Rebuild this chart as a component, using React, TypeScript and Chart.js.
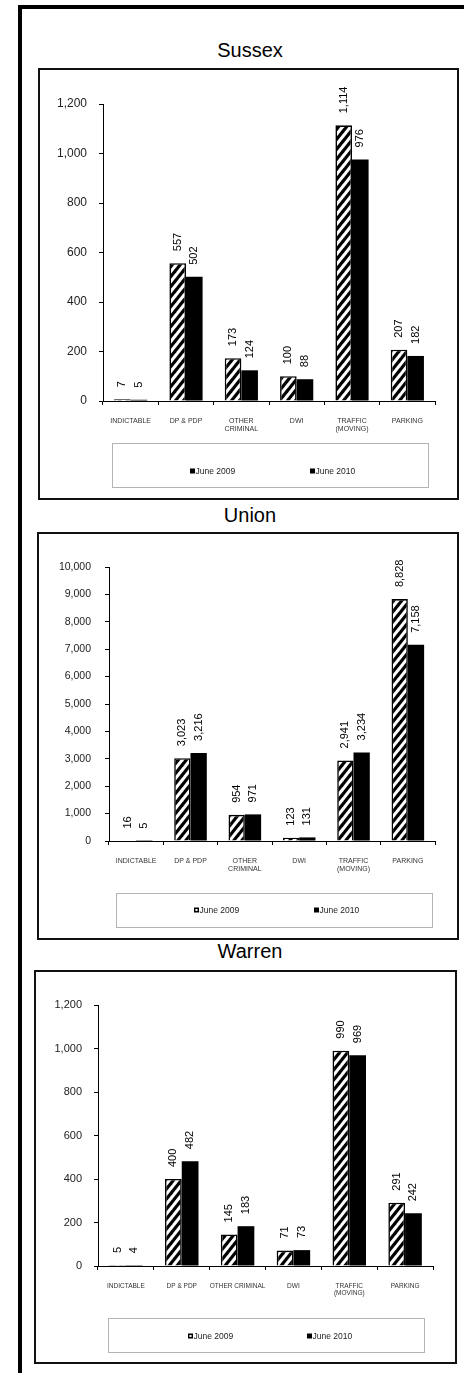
import React, { useEffect, useRef } from "react";
import { Chart, registerables } from "chart.js";

Chart.register(...registerables);

// ---------- data ----------
const seriesNames = ["June 2009", "June 2010"];

const sussexCategories: (string | string[])[] = ["INDICTABLE", "DP & PDP", ["OTHER", "CRIMINAL"], "DWI", ["TRAFFIC", "(MOVING)"], "PARKING"];
const sussex2009 = [7, 557, 173, 100, 1114, 207];
const sussex2010 = [5, 502, 124, 88, 976, 182];
const sussexTicks = { max: 1200, step: 200 };

const unionCategories: (string | string[])[] = ["INDICTABLE", "DP & PDP", ["OTHER", "CRIMINAL"], "DWI", ["TRAFFIC", "(MOVING)"], "PARKING"];
const union2009 = [16, 3023, 954, 123, 2941, 8828];
const union2010 = [5, 3216, 971, 131, 3234, 7158];
const unionTicks = { max: 10000, step: 1000 };

const warrenCategories: (string | string[])[] = ["INDICTABLE", "DP & PDP", "OTHER CRIMINAL", "DWI", ["TRAFFIC", "(MOVING)"], "PARKING"];
const warren2009 = [5, 400, 145, 71, 990, 291];
const warren2010 = [4, 482, 183, 73, 969, 242];
const warrenTicks = { max: 1200, step: 200 };

const FONT = '"Liberation Sans", Arial, Helvetica, sans-serif';

function makeHatch(ctx: CanvasRenderingContext2D): CanvasPattern | string {
  const w = 8, h = 10;
  const c = document.createElement("canvas");
  c.width = w;
  c.height = h;
  const g = c.getContext("2d");
  if (!g) return "#888";
  g.fillStyle = "#fff";
  g.fillRect(0, 0, w, h);
  g.strokeStyle = "#000";
  g.lineWidth = 3.2;
  for (let k = -1; k <= 1; k++) {
    g.beginPath();
    g.moveTo(-w, 2 * h + k * h);
    g.lineTo(2 * w, -h + k * h);
    g.stroke();
  }
  return ctx.createPattern(c, "repeat") || "#888";
}

const valueLabels = {
  id: "valueLabels",
  afterDatasetsDraw(chart: any, _args: any, opts: any) {
    const ctx = chart.ctx;
    chart.data.datasets.forEach((ds: any, i: number) => {
      const meta = chart.getDatasetMeta(i);
      meta.data.forEach((bar: any, j: number) => {
        const v = ds.data[j];
        ctx.save();
        ctx.translate(bar.x, bar.y - opts.gap);
        ctx.rotate(-Math.PI / 2);
        ctx.font = `${opts.size}px ${FONT}`;
        ctx.fillStyle = "#000";
        ctx.textAlign = "left";
        ctx.textBaseline = "middle";
        ctx.fillText(Number(v).toLocaleString("en-US"), 0, 0);
        ctx.restore();
      });
    });
  },
};

const legendBox = {
  id: "legendBox",
  afterDraw(chart: any, _args: any, opts: any) {
    const ctx = chart.ctx;
    const b = opts.box;
    ctx.save();
    ctx.strokeStyle = "#b4b4b4";
    ctx.lineWidth = 1;
    ctx.strokeRect(b.left + 0.5, b.top + 0.5, b.width, b.height);
    ctx.font = `${opts.size}px ${FONT}`;
    ctx.textBaseline = "middle";
    ctx.textAlign = "left";
    chart.data.datasets.forEach((ds: any, i: number) => {
      const x = b.left + opts.items[i];
      const y = b.top + opts.textY;
      ctx.fillStyle = "#000";
      ctx.fillRect(x, y - 2.5, 5, 5);
      if (i === 0 && opts.hollow) {
        ctx.fillStyle = "#fff";
        ctx.fillRect(x + 1.5, y - 1, 2, 2);
      }
      ctx.fillStyle = "#222";
      ctx.fillText(ds.label, x + 5.5, y + 0.5);
    });
    ctx.restore();
  },
};

type Cfg = {
  title: string;
  titleTop: number;
  box: { left: number; top: number; width: number; height: number };
  categories: (string | string[])[];
  a: number[];
  b: number[];
  ticks: { max: number; step: number };
  axisX: number;
  top: number;
  right: number;
  zero: number;
  xAxisH: number;
  yFont: number;
  yPad: number;
  xFont: number;
  legend: { box: { left: number; top: number; width: number; height: number }; textY: number; items: number[]; hollow: boolean; size: number };
};

function CountyChart({ cfg }: { cfg: Cfg }) {
  const ref = useRef<HTMLCanvasElement | null>(null);
  const cw = cfg.box.width - 4;
  const ch = cfg.box.height - 4;
  useEffect(() => {
    const canvas = ref.current;
    if (!canvas) return;
    const ctx = canvas.getContext("2d");
    if (!ctx) return;
    const hatch = makeHatch(ctx);
    const chart = new Chart(canvas, {
      type: "bar",
      data: {
        labels: cfg.categories as any,
        datasets: [
          { label: seriesNames[0], data: cfg.a, backgroundColor: hatch as any, borderColor: "#000", borderWidth: 1.6 },
          { label: seriesNames[1], data: cfg.b, backgroundColor: "#000", borderColor: "#000", borderWidth: 0 },
        ],
      },
      options: {
        animation: false,
        responsive: false,
        maintainAspectRatio: false,
        layout: { padding: { left: 0, top: cfg.top, right: cfg.right, bottom: ch - cfg.zero - cfg.xAxisH } },
        datasets: { bar: { categoryPercentage: 0.6, barPercentage: 1 } } as any,
        plugins: {
          legend: { display: false },
          tooltip: { enabled: false },
          valueLabels: { gap: 12, size: 11 },
          legendBox: cfg.legend,
        } as any,
        scales: {
          x: {
            grid: { display: true, drawOnChartArea: false, drawTicks: true, tickLength: 4, color: "#000", offset: true },
            border: { display: true, color: "#000", width: 1 },
            ticks: { font: { family: FONT, size: cfg.xFont, lineHeight: 1.15 }, color: "#333", padding: 12, maxRotation: 0, autoSkip: false },
            afterFit: (s: any) => { s.height = cfg.xAxisH; },
          },
          y: {
            min: 0,
            max: cfg.ticks.max,
            grid: { display: true, drawOnChartArea: false, drawTicks: true, tickLength: 4, color: "#000" },
            border: { display: true, color: "#000", width: 1 },
            ticks: {
              stepSize: cfg.ticks.step,
              font: { family: FONT, size: cfg.yFont },
              color: "#222",
              padding: cfg.yPad,
              callback: (v: any) => Number(v).toLocaleString("en-US"),
            },
            afterFit: (s: any) => { s.width = cfg.axisX; },
          },
        } as any,
      },
      plugins: [valueLabels, legendBox],
    });
    return () => chart.destroy();
  }, [cfg]);

  return (
    <>
      <div
        style={{
          position: "absolute",
          left: 150,
          top: cfg.titleTop,
          width: 200,
          textAlign: "center",
          fontFamily: FONT,
          fontSize: 20,
          lineHeight: "20px",
          color: "#000",
        }}
      >
        {cfg.title}
      </div>
      <div
        style={{
          position: "absolute",
          left: cfg.box.left,
          top: cfg.box.top,
          width: cfg.box.width,
          height: cfg.box.height,
          border: "2px solid #111",
          boxSizing: "border-box",
          background: "#fff",
        }}
      >
        <canvas ref={ref} width={cw} height={ch} style={{ position: "absolute", left: 0, top: 0, width: cw, height: ch }} />
      </div>
    </>
  );
}

const sussexCfg: Cfg = {
  title: "Sussex",
  titleTop: 40,
  box: { left: 38, top: 68, width: 421, height: 432 },
  categories: sussexCategories,
  a: sussex2009,
  b: sussex2010,
  ticks: sussexTicks,
  axisX: 63,
  top: 34,
  right: 22,
  zero: 331,
  xAxisH: 42,
  yFont: 12,
  yPad: 12,
  xFont: 7,
  legend: { box: { left: 72, top: 373, width: 316, height: 44 }, textY: 28, items: [78, 198], hollow: false, size: 8.5 },
};

const unionCfg: Cfg = {
  title: "Union",
  titleTop: 505,
  box: { left: 37, top: 532, width: 422, height: 408 },
  categories: unionCategories,
  a: union2009,
  b: union2010,
  ticks: unionTicks,
  axisX: 70,
  top: 33,
  right: 22,
  zero: 307,
  xAxisH: 42,
  yFont: 10.5,
  yPad: 14,
  xFont: 7,
  legend: { box: { left: 77, top: 359, width: 316, height: 34 }, textY: 17, items: [78, 198], hollow: true, size: 8.5 },
};

const warrenCfg: Cfg = {
  title: "Warren",
  titleTop: 941,
  box: { left: 34, top: 970, width: 423, height: 394 },
  categories: warrenCategories,
  a: warren2009,
  b: warren2010,
  ticks: warrenTicks,
  axisX: 62,
  top: 33,
  right: 22,
  zero: 294,
  xAxisH: 42,
  yFont: 11,
  yPad: 12,
  xFont: 6.5,
  legend: { box: { left: 72, top: 346, width: 316, height: 34 }, textY: 18, items: [80, 199], hollow: true, size: 8.5 },
};

export default function App() {
  return (
    <div style={{ position: "absolute", left: 0, top: 0, width: 464, height: 1373, overflow: "hidden", background: "#fff" }}>
      <div style={{ position: "absolute", left: 18, top: 5, width: 446, height: 4, background: "#000" }} />
      <div style={{ position: "absolute", left: 18, top: 5, width: 4, height: 1368, background: "#000" }} />
      <CountyChart cfg={sussexCfg} />
      <CountyChart cfg={unionCfg} />
      <CountyChart cfg={warrenCfg} />
    </div>
  );
}
